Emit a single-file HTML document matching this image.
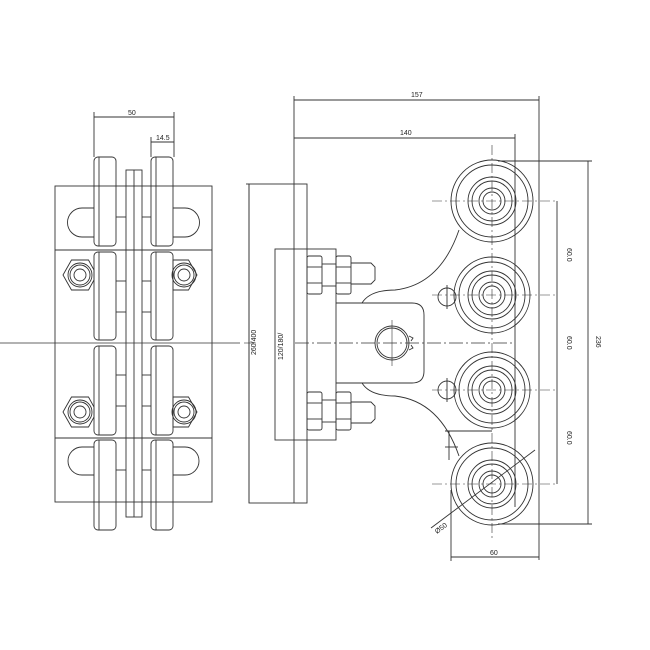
<!DOCTYPE html>
<html><head><meta charset="utf-8"><style>
html,body{margin:0;padding:0;background:#fff}
svg{display:block}
text{font-family:"Liberation Sans",sans-serif;font-size:7px;fill:#222}
</style></head><body>
<svg width="650" height="650" viewBox="0 0 650 650" xmlns="http://www.w3.org/2000/svg">
<g fill="none" stroke="#333" stroke-width="0.9">
<!-- LEFT VIEW -->
<line x1="0" y1="343" x2="240" y2="343" stroke-width="0.7"/>
<line x1="94" y1="117" x2="174" y2="117"/><line x1="94" y1="112" x2="94" y2="157"/><line x1="174" y1="112" x2="174" y2="157"/>
<line x1="151" y1="142" x2="174" y2="142"/><line x1="151" y1="137" x2="151" y2="157"/>
<rect x="55" y="186" width="157" height="316"/>
<line x1="55" y1="250" x2="212" y2="250"/><line x1="55" y1="438" x2="212" y2="438"/>
<!-- slots -->
<path d="M94 208 H82 A14.5 14.5 0 0 0 82 237 H94"/>
<path d="M173 208 H185 A14.5 14.5 0 0 1 185 237 H173"/>
<path d="M94 447 H82 A14 14 0 0 0 82 475 H94"/>
<path d="M173 447 H185 A14 14 0 0 1 185 475 H173"/>
<!-- short lines -->
<g>
<line x1="116" y1="217" x2="126" y2="217"/><line x1="142" y1="217" x2="151" y2="217"/>
<line x1="116" y1="281" x2="126" y2="281"/><line x1="142" y1="281" x2="151" y2="281"/>
<line x1="116" y1="312" x2="126" y2="312"/><line x1="142" y1="312" x2="151" y2="312"/>
<line x1="116" y1="375" x2="126" y2="375"/><line x1="142" y1="375" x2="151" y2="375"/>
<line x1="116" y1="406" x2="126" y2="406"/><line x1="142" y1="406" x2="151" y2="406"/>
<line x1="116" y1="470" x2="126" y2="470"/><line x1="142" y1="470" x2="151" y2="470"/>
</g>
<!-- rail -->
<rect x="126" y="170" width="16" height="347"/><line x1="134" y1="170" x2="134" y2="517"/>
<!-- wheels -->
<g>
<rect x="94" y="157" width="22" height="89" rx="4"/><line x1="99" y1="157" x2="99" y2="246"/>
<rect x="94" y="252" width="22" height="88" rx="4"/><line x1="99" y1="252" x2="99" y2="340"/>
<rect x="94" y="346" width="22" height="89" rx="4"/><line x1="99" y1="346" x2="99" y2="435"/>
<rect x="94" y="440" width="22" height="90" rx="4"/><line x1="99" y1="440" x2="99" y2="530"/>
<rect x="151" y="157" width="22" height="89" rx="4"/><line x1="156" y1="157" x2="156" y2="246"/>
<rect x="151" y="252" width="22" height="88" rx="4"/><line x1="156" y1="252" x2="156" y2="340"/>
<rect x="151" y="346" width="22" height="89" rx="4"/><line x1="156" y1="346" x2="156" y2="435"/>
<rect x="151" y="440" width="22" height="90" rx="4"/><line x1="156" y1="440" x2="156" y2="530"/>
</g>
<!-- hex nuts -->
<g id="hx">
<polygon points="63,275 71.5,260 88.5,260 94,270 94,280 88.5,290 71.5,290"/>
<circle cx="80" cy="275" r="12"/><circle cx="80" cy="275" r="10"/><circle cx="80" cy="275" r="6"/>
</g>
<polygon points="197,275 188.5,260 173,260 173,290 188.5,290"/>
<circle cx="184" cy="275" r="12"/><circle cx="184" cy="275" r="10"/><circle cx="184" cy="275" r="6"/>
<polygon points="63,412 71.5,397 88.5,397 94,407 94,417 88.5,427 71.5,427"/>
<circle cx="80" cy="412" r="12"/><circle cx="80" cy="412" r="10"/><circle cx="80" cy="412" r="6"/>
<polygon points="197,412 188.5,397 173,397 173,427 188.5,427"/>
<circle cx="184" cy="412" r="12"/><circle cx="184" cy="412" r="10"/><circle cx="184" cy="412" r="6"/>

<!-- RIGHT VIEW -->
<line x1="294" y1="100" x2="539" y2="100"/><line x1="294" y1="96" x2="294" y2="503"/><line x1="539" y1="96" x2="539" y2="560"/>
<line x1="294" y1="138" x2="515" y2="138"/><line x1="515" y1="134" x2="515" y2="507"/>
<rect x="249" y="184" width="58" height="319"/>
<line x1="246" y1="184" x2="249" y2="184"/>
<rect x="275" y="249" width="61" height="191"/>
<!-- nuts -->
<rect x="307" y="256" width="15" height="38" rx="2"/><line x1="307" y1="267" x2="322" y2="267"/><line x1="307" y1="283" x2="322" y2="283"/>
<rect x="336" y="256" width="15" height="38" rx="2"/><line x1="336" y1="267" x2="351" y2="267"/><line x1="336" y1="283" x2="351" y2="283"/>
<line x1="322" y1="264" x2="336" y2="264"/><line x1="322" y1="286" x2="336" y2="286"/>
<path d="M351 263 H371 L375 267 V280 L371 284 H351"/>
<rect x="307" y="392" width="15" height="38" rx="2"/><line x1="307" y1="403" x2="322" y2="403"/><line x1="307" y1="419" x2="322" y2="419"/>
<rect x="336" y="392" width="15" height="38" rx="2"/><line x1="336" y1="403" x2="351" y2="403"/><line x1="336" y1="419" x2="351" y2="419"/>
<line x1="322" y1="400" x2="336" y2="400"/><line x1="322" y1="422" x2="336" y2="422"/>
<path d="M351 402 H371 L375 406 V419 L371 423 H351"/>
<!-- bracket -->
<path d="M336 303 H412 Q424 303 424 315 V371 Q424 383 412 383 H336"/>
<path d="M362 303 Q370 290 395 290 Q440 285 459 230"/>
<path d="M362 383 Q370 396 395 396 Q440 401 459 456"/>
<circle cx="392" cy="343" r="17"/><circle cx="392" cy="343" r="15"/>
<path d="M409 336 l4 2 l-2 3 M409 350 l4 -2 l-2 -3"/>
<line x1="295" y1="343" x2="515" y2="343" stroke-dasharray="14 3 2 3" stroke-width="0.7"/>
<line x1="392" y1="320" x2="392" y2="366" stroke-width="0.6"/>
<!-- small circles -->
<circle cx="447" cy="297" r="9"/><line x1="447" y1="285" x2="447" y2="309"/>
<circle cx="447" cy="390" r="9"/><line x1="447" y1="378" x2="447" y2="402"/>
<!-- wheels -->
<g>
<circle cx="492" cy="201" r="41"/><circle cx="492" cy="201" r="36"/><circle cx="492" cy="201" r="24"/><circle cx="492" cy="201" r="20"/><circle cx="492" cy="201" r="13"/><circle cx="492" cy="201" r="9"/>
<circle cx="492" cy="295" r="38"/><circle cx="492" cy="295" r="33"/><circle cx="492" cy="295" r="24"/><circle cx="492" cy="295" r="20"/><circle cx="492" cy="295" r="13"/><circle cx="492" cy="295" r="9"/>
<circle cx="492" cy="390" r="38"/><circle cx="492" cy="390" r="33"/><circle cx="492" cy="390" r="24"/><circle cx="492" cy="390" r="20"/><circle cx="492" cy="390" r="13"/><circle cx="492" cy="390" r="9"/>
<circle cx="492" cy="484" r="41"/><circle cx="492" cy="484" r="36"/><circle cx="492" cy="484" r="24"/><circle cx="492" cy="484" r="20"/><circle cx="492" cy="484" r="13"/><circle cx="492" cy="484" r="9"/>
</g>
<g stroke-dasharray="10 3 2 3" stroke-width="0.6">
<line x1="492" y1="145" x2="492" y2="540"/>
<line x1="432" y1="201" x2="556" y2="201"/><line x1="432" y1="295" x2="556" y2="295"/>
<line x1="432" y1="390" x2="556" y2="390"/><line x1="432" y1="484" x2="556" y2="484"/>
</g>
<!-- dims right -->
<line x1="498" y1="161" x2="592" y2="161"/><line x1="498" y1="524" x2="592" y2="524"/>
<line x1="588" y1="161" x2="588" y2="524"/>
<line x1="557" y1="201" x2="557" y2="484"/>
<line x1="451" y1="490" x2="451" y2="561"/>
<line x1="451" y1="557" x2="539" y2="557"/>
<line x1="445" y1="431" x2="492" y2="431"/><line x1="445" y1="447" x2="458" y2="447"/>
<line x1="449" y1="431" x2="449" y2="460"/>
<line x1="431" y1="528" x2="535" y2="450"/>
<line x1="249" y1="184" x2="249" y2="503"/><line x1="244" y1="343" x2="254" y2="343" stroke-width="0.6"/>
</g>
<text x="128" y="115">50</text>
<text x="156" y="140">14.5</text>
<text x="411" y="97">157</text>
<text x="400" y="135">140</text>
<text x="0" y="0" transform="translate(567,248) rotate(90)">60.0</text>
<text x="0" y="0" transform="translate(567,336) rotate(90)">60.0</text>
<text x="0" y="0" transform="translate(567,431) rotate(90)">60.0</text>
<text x="0" y="0" transform="translate(596,336) rotate(90)">236</text>
<text x="490" y="555">60</text>
<text x="0" y="0" transform="translate(437,534) rotate(-37)">Ø50</text>
<text x="0" y="0" transform="translate(256,355) rotate(-90)">260/400</text>
<text x="0" y="0" transform="translate(283,360) rotate(-90)">120/180/</text>
</svg>
</body></html>
